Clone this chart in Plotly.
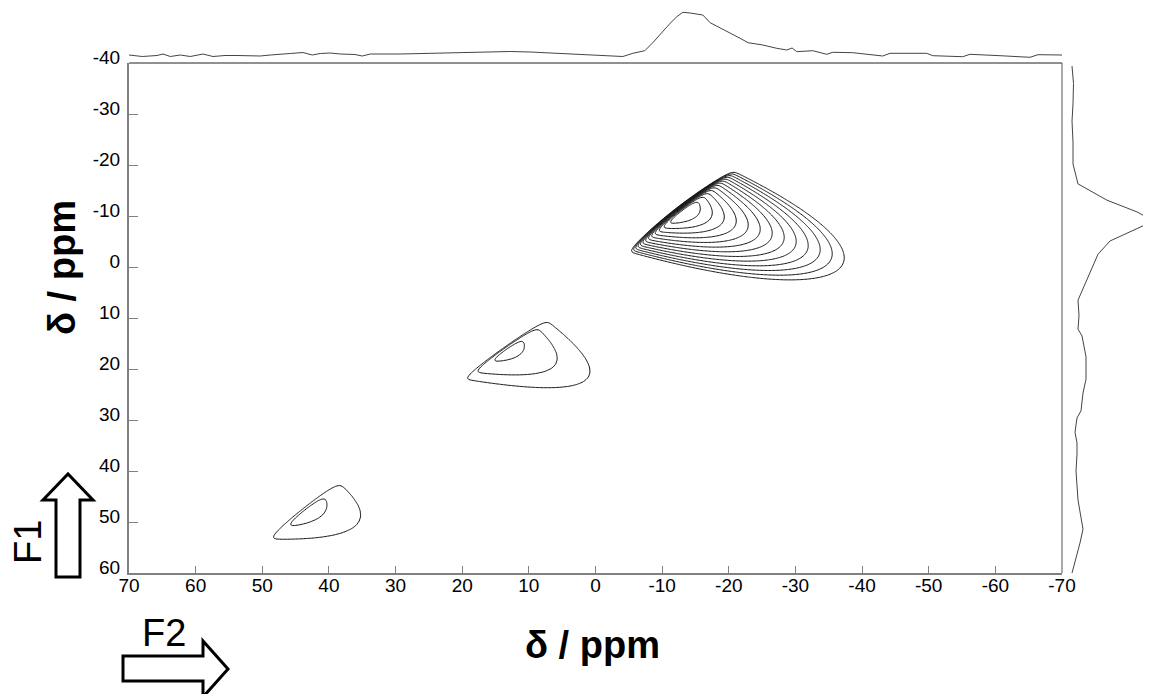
import numpy as np
import plotly.graph_objects as go

# ---------------- data ----------------
# F2 / F1 axis ticks (ppm)
x_ticks = [70, 60, 50, 40, 30, 20, 10, 0, -10, -20, -30, -40, -50, -60, -70]
y_ticks = [-40, -30, -20, -10, 0, 10, 20, 30, 40, 50, 60]

peak_names  = ["main", "middle", "lower"]
edge_f2     = [-4.7, 20.0, 49.5]     # lower-left vertex of the sharp edge (F2)
edge_f1     = [-2.9, 21.6, 53.0]     # lower-left vertex of the sharp edge (F1)
edge_slope  = [1.02, 0.93, 1.05]     # dF1/dF2 of the sharp edge
center_f1   = [-11.0, 16.0, 47.6]    # F1 centre along the edge
width_f1    = [3.0, 5.1, 6.2]        # F1 spread
width_grow  = [0.02, 0.0, 0.0]
drift_f1    = [0.33, 0.33, 0.29]     # F1 drift of the tail
tail_len    = [10.0, 29.0, 26.5]     # tail decay length (ppm)
amplitude   = [1.0, 0.058, 0.046]
edge_width  = [0.3, 0.35, 0.4]

# F2 projection (top trace)
top_f2 = [70, 68, 65.8, 64.9, 63.8, 62.3, 60.8, 58.9, 57.4, 55.6, 53.8, 52.3, 50.3, 48.8,
          47.3, 45.8, 43.9, 42.5, 41.3, 39.8, 38.3, 36.1, 35.0, 33.8, 29.3, 24.8, 20.3,
          15.8, 12.8, 9.8, 6.1, 2.3, -0.7, -2.9, -4.1, -5.6, -7.4, -8.6, -10.0, -11.2,
          -12.2, -13.1, -14.2, -15.2, -16.1, -17.2, -19.7, -21.7, -22.9, -25.1, -27.2,
          -28.7, -29.5, -30.2, -32.6, -34.7, -35.6, -38.6, -43.1, -44.2, -49.7, -50.6,
          -55.1, -56.2, -60.7, -65.2, -66.4, -70]
top_int = [3, 1.5, 2.5, 4, 1.5, 3, 1.5, 4, 1.5, 2.5, 2.5, 2, 2, 3,
           4, 4.5, 5.5, 3, 4.5, 5, 4, 3.5, 2, 4, 4, 4.5, 5,
           6, 6.5, 6, 5, 3.5, 2.5, 2, 1.5, 4.7, 7.3, 15.3, 26.3, 34.7,
           41.3, 45.7, 45, 44, 43, 35.3, 27, 19.7, 15.3, 13, 9.7,
           8, 10, 6.3, 7.3, 3.7, 5.7, 5.3, 2, 4.7, 4.7, 2.3,
           1.3, 3.7, 2.3, 0.7, 3.3, 3]

# F1 projection (right trace)
right_f1 = [-39.4, -36.0, -32.0, -28.6, -24.5, -20.2, -16.3, -13.1, -10.8, -9.0, -7.8,
            -5.1, -2.5, 2.4, 6.5, 9.5, 12.2, 13.5, 17.6, 22.0, 24.7, 28.2, 29.6, 32.4,
            34.5, 36.7, 40.0, 45.7, 47.8, 51.4, 54.1, 56.9, 59.0, 60.0]
right_int = [6, 7.5, 7, 6, 7, 7, 12, 41, 71, 88, 74,
             44, 32, 21, 12, 13, 12, 16, 20, 20, 17, 15, 11, 9,
             11, 11, 10, 12, 14, 17, 14, 10, 7, 6]

# ---------------- contour field ----------------
f2 = np.arange(-50.0, 58.0001, 0.2)
f1 = np.arange(-26.0, 60.0001, 0.2)
F2, F1 = np.meshgrid(f2, f1)
field = np.zeros_like(F2)
for i in range(len(peak_names)):
    h = edge_f2[i] + (F1 - edge_f1[i]) / edge_slope[i] - F2
    edge = 1.0 / (1.0 + np.exp(-h / edge_width[i]))
    decay = np.exp(-np.clip(h, 0, None) / tail_len[i])
    sig = width_f1[i] + width_grow[i] * np.clip(h, 0, None)
    g = np.exp(-0.5 * ((F1 - center_f1[i] - drift_f1[i] * h) / sig) ** 2)
    field += amplitude[i] * edge * decay * g
zlog = np.round(np.log10(np.maximum(field, 1e-4)), 3)

# ---------------- figure ----------------
# page has an 8px body margin: figure occupies page pixels 8..1151 x 8..694
W, H = 1143, 686
ML, MR, MT, MB = 121, 0, 0, 121
PW, PH = W - ML - MR, H - MT - MB
PAGE_LEFT, PAGE_BOTTOM = 129, 573   # page pixel of plot-region left / bottom


def px(xp):
    return (xp - PAGE_LEFT) / PW


def py(yp):
    return (PAGE_BOTTOM - yp) / PH


xd1 = px(1062)
yd1 = py(63)

fig = go.Figure()
fig.add_trace(go.Contour(
    x=f2, y=f1, z=zlog,
    contours=dict(start=np.log10(0.03), end=0.0, size=np.log10(1.3), coloring="lines"),
    colorscale=[[0, "#111111"], [1, "#111111"]],
    line=dict(width=1, smoothing=1),
    showscale=False, hoverinfo="skip",
    xaxis="x", yaxis="y"))

fig.add_trace(go.Scatter(x=top_f2, y=top_int, mode="lines",
                         line=dict(color="#444444", width=1),
                         xaxis="x", yaxis="y3", hoverinfo="skip"))
fig.add_trace(go.Scatter(x=right_int, y=right_f1, mode="lines",
                         line=dict(color="#444444", width=1),
                         xaxis="x2", yaxis="y", hoverinfo="skip", cliponaxis=True))

tickfont = dict(family="Liberation Sans, Arial, sans-serif", size=19, color="black")
fig.update_layout(
    template="none",
    width=W, height=H,
    margin=dict(l=ML, r=MR, t=MT, b=MB, autoexpand=False),
    paper_bgcolor="white", plot_bgcolor="white",
    showlegend=False,
    xaxis=dict(domain=[0, xd1], range=[70, -70], tickvals=x_ticks,
               ticktext=[str(v) for v in x_ticks], automargin=False,
               ticks="inside", ticklen=7, tickcolor="#808080", tickwidth=1,
               showline=True, linecolor="#808080", linewidth=2,
               showgrid=False, zeroline=False, tickfont=tickfont, anchor="y",
               ticklabelstandoff=-6),
    yaxis=dict(domain=[0, yd1], range=[60, -40], tickvals=y_ticks,
               ticktext=[str(v) for v in y_ticks], automargin=False,
               ticks="inside", ticklen=9, tickcolor="#808080", tickwidth=1,
               showline=True, linecolor="#808080", linewidth=2,
               showgrid=False, zeroline=False, tickfont=tickfont, anchor="x",
               ticklabelshift=6, ticklabelstandoff=3),
    xaxis2=dict(domain=[px(1066), 1], range=[0, 85], visible=False, anchor="y",
                automargin=False),
    yaxis3=dict(domain=[py(58), 1], range=[0, 50], visible=False, anchor="x",
                automargin=False),
)

# plot box top/right borders
fig.add_shape(type="line", xref="paper", yref="paper", x0=0, x1=xd1, y0=yd1, y1=yd1,
              line=dict(color="#222222", width=1))
fig.add_shape(type="line", xref="paper", yref="paper", x0=xd1, x1=xd1, y0=0, y1=yd1,
              line=dict(color="#555555", width=1))


def path(points):
    s = "M " + " L ".join(f"{px(a):.5f},{py(b):.5f}" for a, b in points) + " Z"
    return s


up_arrow = [(56, 577), (56, 500), (43, 500), (68, 474), (93, 500), (80, 500), (80, 577)]
right_arrow = [(123, 656), (203, 656), (203, 641), (228, 669), (203, 697), (203, 681), (123, 681)]
for pts in (up_arrow, right_arrow):
    fig.add_shape(type="path", xref="paper", yref="paper", path=path(pts),
                  fillcolor="white", line=dict(color="black", width=3))

titlefont = dict(family="Liberation Sans, Arial, sans-serif", size=38, color="black")
fig.add_annotation(text="<b>δ / ppm</b>", x=px(592), y=py(645), xref="paper", yref="paper",
                   showarrow=False, font=titlefont, xanchor="center", yanchor="middle")
fig.add_annotation(text="<b>δ / ppm</b>", x=px(62), y=py(268), xref="paper", yref="paper",
                   showarrow=False, font=titlefont, textangle=-90,
                   xanchor="center", yanchor="middle")
labfont = dict(family="Liberation Sans, Arial, sans-serif", size=38, color="black")
fig.add_annotation(text="F1", x=px(28), y=py(542), xref="paper", yref="paper",
                   showarrow=False, font=labfont, textangle=-90,
                   xanchor="center", yanchor="middle")
fig.add_annotation(text="F2", x=px(164), y=py(633), xref="paper", yref="paper",
                   showarrow=False, font=labfont, xanchor="center", yanchor="middle")

fig.write_html("out.html")
